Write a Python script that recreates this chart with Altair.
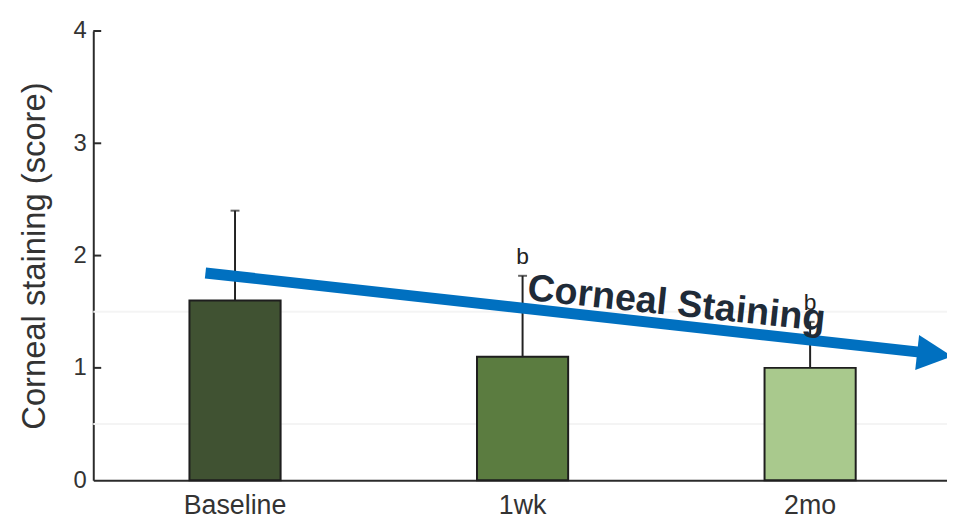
import altair as alt
import pandas as pd

# ---- data ----
categories = ["Baseline", "1wk", "2mo"]
means = [1.6, 1.1, 1.0]
err_tops = [2.4, 1.82, 1.41]
sig_labels = ["", "b", "b"]
bar_colors = ["#405232", "#5b7c40", "#a9c98d"]
y_ticks = [0, 1, 2, 3, 4]
faint_lines = [0.5, 1.5]

# annotation arrow (x in category-index units, y in score units)
arrow_x = [-0.103, 2.388]
arrow_y = [1.845, 1.138]
head_x = [2.433]
head_y = [1.120]
arrow_label = "Corneal Staining"
label_x = [1.535]
label_y = [1.563]
x_index_domain = [-0.4931, 2.4759]

FONT = "Liberation Sans"
AXIS_COLOR = "#2b2b2b"
TEXT_COLOR = "#333333"
BLUE = "#0070c0"

df = pd.DataFrame({"cat": categories, "mean": means, "err": err_tops, "sig": sig_labels})

y_scale = alt.Scale(domain=[0, 4], nice=False, zero=True)
y_axis = alt.Axis(
    values=y_ticks, format="d", ticks=False, grid=False,
    domainColor=AXIS_COLOR, domainWidth=2,
    labelFontSize=24, labelColor=TEXT_COLOR, labelPadding=7, labelFont=FONT,
    title="Corneal staining (score)", titleFontSize=33, titleFontWeight="normal",
    titleColor=TEXT_COLOR, titlePadding=22, titleFont=FONT,
)

x_axis = alt.Axis(
    title=None, labelAngle=0, ticks=False, domainColor=AXIS_COLOR, domainWidth=2,
    labelFontSize=27, labelColor=TEXT_COLOR, labelPadding=13, labelFont=FONT,
)
x_band = alt.Scale(paddingInner=0.683, paddingOuter=0.326, align=0.513)


def xcat():
    return alt.X("cat:N", sort=categories, scale=x_band, axis=x_axis)


def yq(field):
    return alt.Y(field, scale=y_scale, axis=y_axis)


faint = alt.Chart(pd.DataFrame({"v": faint_lines})).mark_rule(
    color="#f4f4f4", strokeWidth=2
).encode(y=yq("v:Q"))

bars = alt.Chart(df).mark_bar(stroke="#1e1e1e", strokeWidth=2).encode(
    x=xcat(),
    y=yq("mean:Q"),
    color=alt.Color("cat:N", scale=alt.Scale(domain=categories, range=bar_colors), legend=None),
)

err = alt.Chart(df).mark_rule(color="#222222", strokeWidth=2).encode(
    x=xcat(),
    y=yq("mean:Q"),
    y2="err:Q",
)

caps = alt.Chart(df).mark_tick(color="#222222", thickness=2, size=9, orient="horizontal").encode(
    x=xcat(),
    y=yq("err:Q"),
)

sig = alt.Chart(df).mark_text(
    fontSize=23, baseline="alphabetic", dy=-12, color="#222222", font=FONT
).encode(
    x=xcat(),
    y=yq("err:Q"),
    text="sig:N",
)

inner_ticks = alt.Chart(pd.DataFrame({"v": y_ticks[1:]})).mark_rule(
    color=AXIS_COLOR, strokeWidth=2
).encode(
    x=alt.value(0), x2=alt.value(8),
    y=yq("v:Q"),
)

main = alt.layer(faint, bars, err, caps, sig, inner_ticks)

xq = alt.Scale(domain=x_index_domain, nice=False, zero=False)

shaft = alt.Chart(pd.DataFrame({
    "x": [arrow_x[0]], "x2": [arrow_x[1]], "y": [arrow_y[0]], "y2": [arrow_y[1]]
})).mark_rule(color=BLUE, strokeWidth=11, strokeCap="butt").encode(
    x=alt.X("x:Q", scale=xq, axis=None),
    x2="x2:Q",
    y=yq("y:Q"),
    y2="y2:Q",
)

head = alt.Chart(pd.DataFrame({"x": head_x, "y": head_y})).mark_point(
    shape="M-1,-1L1,0L-1,1Z", size=1260, angle=6.3, filled=True,
    color=BLUE, opacity=1, strokeWidth=0,
).encode(
    x=alt.X("x:Q", scale=xq, axis=None),
    y=yq("y:Q"),
)

label = alt.Chart(pd.DataFrame({"x": label_x, "y": label_y, "t": [arrow_label]})).mark_text(
    fontSize=38, fontWeight="bold", angle=6, color="#1f2b38",
    align="center", baseline="middle", font=FONT,
).encode(
    x=alt.X("x:Q", scale=xq, axis=None),
    y=yq("y:Q"),
    text="t:N",
)

annot = alt.layer(shaft, head, label)

chart = alt.layer(main, annot).resolve_scale(x="independent").properties(
    width=861,
    height=453,
    padding={"left": 86, "top": 21, "right": 0, "bottom": 40},
    autosize=alt.AutoSizeParams(type="none"),
    background="white",
).configure(font=FONT).configure_view(stroke=None)

chart.save("out.html", embed_options={"renderer": "svg", "actions": False})
